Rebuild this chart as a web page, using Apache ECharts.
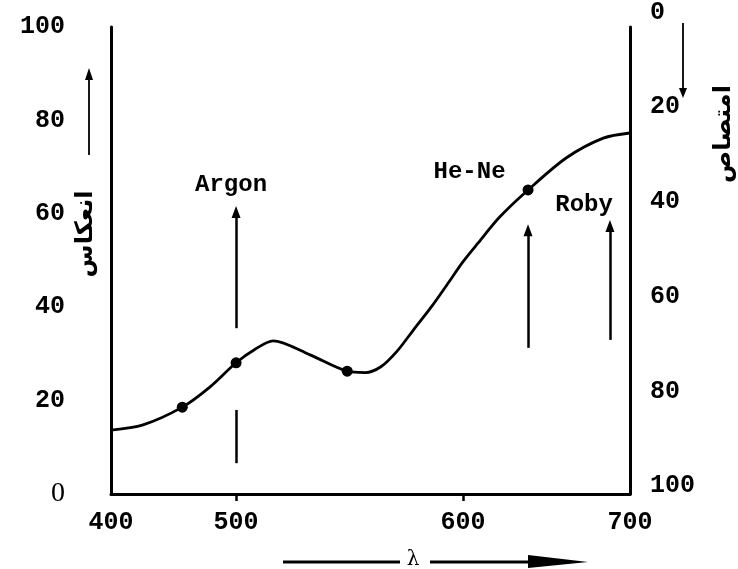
<!DOCTYPE html>
<html>
<head>
<meta charset="utf-8">
<script src="https://cdn.jsdelivr.net/npm/echarts@6/dist/echarts.min.js"></script>
<style>
  html, body { margin: 0; padding: 0; background: #fff; }
  #chart { width: 738px; height: 569px; }
</style>
</head>
<body>
<div id="chart"></div>
<script>
// x axis ticks (the wavelength scale in the figure is not linear)
const tickWavelengths = [400, 500, 600, 700];
const tickPositions = [0, 24.1, 67.8, 100];   // where each tick sits along the axis, %

// reflectance curve
const wavelength = [400, 425.6, 457, 479, 500, 508.4, 516.3, 532.6, 549, 557, 564, 571, 578, 586, 593, 600, 609, 622, 639, 662, 684, 700];
const reflectance = [13.7, 14.8, 18.6, 22.9, 28.1, 31.0, 32.8, 29.8, 26.3, 26.0, 27.3, 30.6, 35.0, 40.0, 44.8, 49.7, 53.7, 59.3, 65.1, 72.0, 76.2, 77.3];

// marked points on the curve
const markedWl = [457, 500, 549, 639];
const markedR = [18.6, 28.1, 26.3, 65.1];

// laser lines
const laserNames = ['Argon', 'He-Ne', 'Roby'];
const laserWl = [500, 639, 688];
const arrowFrom = [35.5, 31.3, 33.0];
const arrowTo = [60.4, 56.5, 57.4];
const labelWl = [496, 604, 672.5];
const labelR = [66.2, 69.0, 61.9];
const argonDash = [18.0, 6.6];

// wavelength -> position along the axis (piecewise linear between ticks)
function toAxis(wl) {
  for (let i = 1; i < tickWavelengths.length; i++) {
    if (wl <= tickWavelengths[i]) {
      const t = (wl - tickWavelengths[i - 1]) / (tickWavelengths[i] - tickWavelengths[i - 1]);
      return tickPositions[i - 1] + t * (tickPositions[i] - tickPositions[i - 1]);
    }
  }
  return 100;
}

const monoFont = { fontFamily: 'Liberation Mono', fontWeight: 'bold', fontSize: 25, color: '#000' };

const chart = echarts.init(document.getElementById('chart'));

const arrowLines = laserWl.map((wl, i) => [
  { coord: [toAxis(wl), arrowFrom[i]], symbol: 'none' },
  { coord: [toAxis(wl), arrowTo[i]], symbol: 'triangle', symbolSize: [9, 12] },
]);
arrowLines.push([
  { coord: [toAxis(laserWl[0]), argonDash[0]], symbol: 'none' },
  { coord: [toAxis(laserWl[0]), argonDash[1]], symbol: 'none' },
]);

chart.setOption({
  animation: false,
  grid: [
    { left: 111, right: 108, top: 27, bottom: 75 },
    { left: 111, right: 108, top: 8, bottom: 83 },   // right-hand scale labels
  ],
  xAxis: [
    {
      type: 'value', gridIndex: 0, min: 0, max: 100,
      axisLine: { lineStyle: { color: '#000', width: 3 } },
      axisTick: { show: true, customValues: [tickPositions[1], tickPositions[2]], length: 7, lineStyle: { color: '#000', width: 2.5 } },
      axisLabel: {
        customValues: tickPositions,
        margin: 16,
        ...monoFont,
        formatter: v => {
          const idx = tickPositions.findIndex(p => Math.abs(p - v) < 0.01);
          return idx >= 0 ? String(tickWavelengths[idx]) : '';
        },
      },
      splitLine: { show: false },
    },
    { type: 'value', gridIndex: 1, min: 0, max: 100, show: false },
  ],
  yAxis: [
    {
      type: 'value', gridIndex: 0, min: 0, max: 100, interval: 20, position: 'left',
      axisLine: { show: true, lineStyle: { color: '#000', width: 3 } },
      axisTick: { show: false },
      splitLine: { show: false },
      axisLabel: {
        margin: 46,
        ...monoFont,
        formatter: v => (v === 0 ? '{z|0}' : String(v)),
        rich: { z: { fontFamily: 'Liberation Serif', fontWeight: 'normal', fontSize: 28, color: '#000' } },
      },
    },
    {
      type: 'value', gridIndex: 0, min: 0, max: 100, position: 'right',
      axisLine: { show: true, lineStyle: { color: '#000', width: 3 } },
      axisTick: { show: false }, axisLabel: { show: false }, splitLine: { show: false },
    },
    {
      type: 'value', gridIndex: 1, min: 0, max: 100, interval: 20, position: 'right', inverse: true,
      axisLine: { show: false }, axisTick: { show: false }, splitLine: { show: false },
      axisLabel: { margin: 20, ...monoFont },
    },
  ],
  graphic: [
    // left arrow + label
    { type: 'line', shape: { x1: 89, y1: 155, x2: 89, y2: 74 }, style: { stroke: '#000', lineWidth: 1.8 } },
    { type: 'polygon', shape: { points: [[85, 80], [89, 68], [93, 80]] }, style: { fill: '#000' } },
    { type: 'text', x: 86, y: 234, rotation: Math.PI / 2,
      style: { text: 'انعكاس', fontFamily: 'DejaVu Sans', fontWeight: 'bold', fontSize: 24, fill: '#000',
               textAlign: 'center', textVerticalAlign: 'middle', align: 'center', verticalAlign: 'middle' } },
    // right arrow + label
    { type: 'line', shape: { x1: 683, y1: 23, x2: 683, y2: 90 }, style: { stroke: '#000', lineWidth: 1.8 } },
    { type: 'polygon', shape: { points: [[679, 88], [683, 98], [687, 88]] }, style: { fill: '#000' } },
    { type: 'text', x: 724, y: 134, rotation: Math.PI / 2,
      style: { text: 'امتصاص', fontFamily: 'DejaVu Sans', fontWeight: 'bold', fontSize: 24, fill: '#000',
               textAlign: 'center', textVerticalAlign: 'middle', align: 'center', verticalAlign: 'middle' } },
    // wavelength arrow under the axis
    { type: 'line', shape: { x1: 283, y1: 562, x2: 400, y2: 562 }, style: { stroke: '#000', lineWidth: 3 } },
    { type: 'text', x: 413, y: 560,
      style: { text: 'λ', fontFamily: 'DejaVu Serif', fontSize: 20, fill: '#000',
               textAlign: 'center', textVerticalAlign: 'middle', align: 'center', verticalAlign: 'middle' } },
    { type: 'line', shape: { x1: 430, y1: 562, x2: 540, y2: 562 }, style: { stroke: '#000', lineWidth: 3 } },
    { type: 'polygon', shape: { points: [[528, 555], [588, 562], [528, 568]] }, style: { fill: '#000' } },
  ],
  series: [
    {
      type: 'line',
      xAxisIndex: 0, yAxisIndex: 0,
      data: wavelength.map((wl, i) => [toAxis(wl), reflectance[i]]),
      smooth: 0.3,
      showSymbol: false,
      lineStyle: { color: '#000', width: 2.8 },
      silent: true,
      markLine: {
        silent: true,
        label: { show: false },
        lineStyle: { color: '#000', width: 2.5, type: 'solid' },
        data: arrowLines,
      },
    },
    {
      type: 'scatter',
      xAxisIndex: 0, yAxisIndex: 0,
      data: markedWl.map((wl, i) => [toAxis(wl), markedR[i]]),
      symbol: 'circle',
      symbolSize: 11,
      itemStyle: { color: '#000', opacity: 1 },
      silent: true,
    },
    {
      type: 'scatter',
      xAxisIndex: 0, yAxisIndex: 0,
      data: laserNames.map((n, i) => ({ value: [toAxis(labelWl[i]), labelR[i]], name: n })),
      symbolSize: 0,
      itemStyle: { opacity: 1, color: '#000' },
      silent: true,
      label: {
        show: true,
        position: 'inside',
        formatter: p => p.name,
        ...monoFont,
        fontSize: 24,
        opacity: 1,
        textBorderWidth: 0,
      },
    },
  ],
});
</script>
</body>
</html>
